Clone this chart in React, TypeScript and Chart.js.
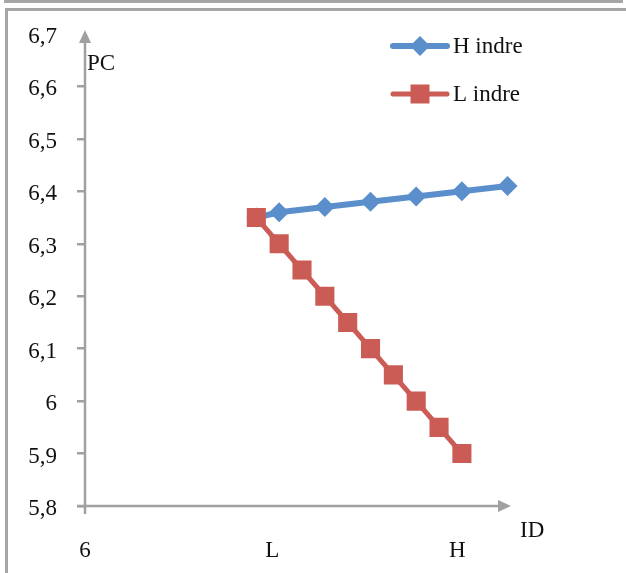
import React, { useEffect, useRef } from "react";
import { Chart, registerables } from "chart.js";

Chart.register(...registerables);

const categories = ["", "", "", "", "", "", "", "", "", "", "", "", "", "", "", "", "", "", ""];
const hIndre = [null, null, null, null, null, null, null, 6.35, 6.36, null, 6.37, null, 6.38, null, 6.39, null, 6.4, null, 6.41];
const lIndre = [null, null, null, null, null, null, null, 6.35, 6.3, 6.25, 6.2, 6.15, 6.1, 6.05, 6.0, 5.95, 5.9, null, null];
const yTickLabels = ["5,8", "5,9", "6", "6,1", "6,2", "6,3", "6,4", "6,5", "6,6", "6,7"];
const seriesNames = ["H indre", "L indre"];
const xAxisTexts = ["6", "L", "H"];
const xAxisTextPos = [-0.5, 7.7, 15.8];
const xTitle = "ID";
const yTitle = "PC";

const BLUE = "#5A8FCB";
const RED = "#CB5B55";
const AXIS = "#A0A0A0";
const FONT = "'Liberation Serif', serif";

const decor = {
  id: "decor",
  beforeDatasetsDraw(chart: any) {
    const { ctx, chartArea } = chart;
    const { left, right, top, bottom } = chartArea;
    ctx.save();
    ctx.strokeStyle = AXIS;
    ctx.fillStyle = AXIS;
    ctx.lineWidth = 2.5;
    // y axis
    ctx.beginPath();
    ctx.moveTo(left, bottom + 8);
    ctx.lineTo(left, top + 6);
    ctx.stroke();
    ctx.beginPath();
    ctx.moveTo(left, top - 4);
    ctx.lineTo(left - 6, top + 9);
    ctx.lineTo(left + 6, top + 9);
    ctx.closePath();
    ctx.fill();
    // x axis
    ctx.beginPath();
    ctx.moveTo(left - 8, bottom);
    ctx.lineTo(right - 18, bottom);
    ctx.stroke();
    ctx.beginPath();
    ctx.moveTo(right - 8, bottom);
    ctx.lineTo(right - 21, bottom - 6);
    ctx.lineTo(right - 21, bottom + 6);
    ctx.closePath();
    ctx.fill();
    ctx.restore();
  },
  afterDraw(chart: any) {
    const { ctx, chartArea } = chart;
    const { left, right, top, bottom } = chartArea;
    const step = (right - left) / categories.length;
    ctx.save();
    ctx.fillStyle = "#111";
    ctx.font = `23px ${FONT}`;
    ctx.textBaseline = "middle";
    ctx.textAlign = "center";
    xAxisTexts.forEach((t, i) => {
      const x = left + (xAxisTextPos[i] + 0.5) * step;
      ctx.fillText(t, x, bottom + 45);
    });
    ctx.textAlign = "left";
    ctx.fillText(xTitle, right + 1, bottom + 25);
    ctx.fillText(yTitle, left + 2, top + 30);

    // legend
    const colors = [BLUE, RED];
    const widths = [6, 5];
    seriesNames.forEach((name, i) => {
      const y = top + 12 + i * 48;
      const x0 = left + 308;
      ctx.strokeStyle = colors[i];
      ctx.lineWidth = widths[i];
      ctx.lineCap = "round";
      ctx.beginPath();
      ctx.moveTo(x0, y);
      ctx.lineTo(x0 + 54, y);
      ctx.stroke();
      ctx.fillStyle = colors[i];
      const cx = x0 + 27;
      ctx.beginPath();
      if (i === 0) {
        ctx.moveTo(cx, y - 10);
        ctx.lineTo(cx + 10, y);
        ctx.lineTo(cx, y + 10);
        ctx.lineTo(cx - 10, y);
        ctx.closePath();
      } else {
        ctx.rect(cx - 9.5, y - 9.5, 19, 19);
      }
      ctx.fill();
      ctx.fillStyle = "#111";
      ctx.fillText(name, x0 + 60, y + 1);
    });
    ctx.restore();
  },
};

export default function App() {
  const ref = useRef<HTMLCanvasElement | null>(null);
  useEffect(() => {
    if (!ref.current) return;
    const chart = new Chart(ref.current, {
      type: "line",
      data: {
        labels: categories,
        datasets: [
          {
            label: seriesNames[0],
            data: hIndre,
            borderColor: BLUE,
            backgroundColor: BLUE,
            borderWidth: 6,
            pointStyle: "rectRot",
            pointRadius: 10,
            pointBorderWidth: 0,
            spanGaps: true,
            order: 1,
          },
          {
            label: seriesNames[1],
            data: lIndre,
            borderColor: RED,
            backgroundColor: RED,
            borderWidth: 5,
            pointStyle: "rect",
            pointRadius: 13.5,
            pointBorderWidth: 0,
            spanGaps: true,
            order: 0,
          },
        ],
      },
      options: {
        animation: false,
        responsive: false,
        devicePixelRatio: 1,
        layout: { padding: { top: 34, right: 107, left: 0, bottom: 0 } },
        plugins: { legend: { display: false }, tooltip: { enabled: false } },
        scales: {
          x: {
            type: "category",
            offset: true,
            grid: { display: false },
            border: { display: false },
            ticks: { display: false },
            afterFit(scale: any) {
              scale.height = 67;
            },
          },
          y: {
            min: 5.8,
            max: 6.7,
            ticks: {
              stepSize: 0.1,
              padding: 20,
              labelOffset: 3,
              color: "#111",
              font: { family: FONT, size: 23 },
              callback: (_v: any, i: number) => yTickLabels[i],
            },
            grid: {
              drawOnChartArea: false,
              drawTicks: true,
              tickLength: 8,
              lineWidth: 2.5,
              color: (c: any) => (c.index === yTickLabels.length - 1 ? "rgba(0,0,0,0)" : AXIS),
            },
            border: { display: false },
            afterFit(scale: any) {
              scale.width = 85;
            },
          },
        },
      },
      plugins: [decor],
    });
    return () => chart.destroy();
  }, []);

  return (
    <div style={{ position: "fixed", left: 0, top: 0, width: 626, height: 573, background: "#fff", overflow: "hidden" }}>
      <div style={{ position: "absolute", left: 4, top: -20, width: 619, height: 23, border: "3px solid #A6A6A6", boxSizing: "border-box" }} />
      <div style={{ position: "absolute", left: 5, top: 8, width: 640, height: 620, border: "3px solid #A6A6A6", boxSizing: "border-box" }} />
      <canvas ref={ref} width={626} height={573} style={{ position: "absolute", left: 0, top: 0 }} />
    </div>
  );
}
